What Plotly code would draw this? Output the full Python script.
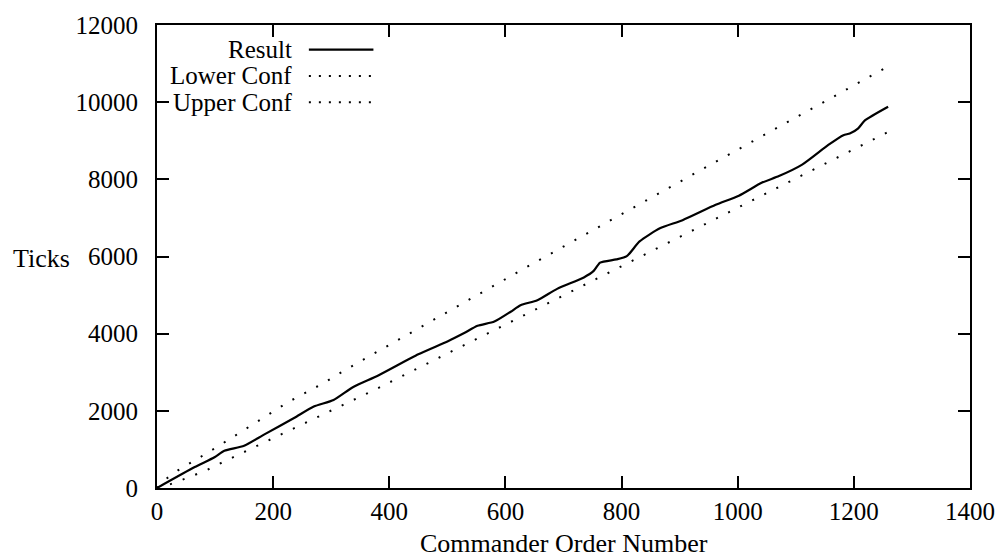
import plotly.graph_objects as go

# ---- data ----
result_x = [0, 65, 99, 116, 150, 185, 236, 270, 304, 338, 381, 450, 501, 529, 552, 581,
            609, 626, 655, 689, 735, 752, 763, 791, 809, 831, 866, 905, 962, 1002, 1042,
            1071, 1111, 1156, 1182, 1193, 1207, 1219, 1259]
result_y = [0, 542, 797, 966, 1093, 1390, 1813, 2110, 2280, 2619, 2916, 3466, 3806, 4017,
            4203, 4314, 4568, 4737, 4865, 5161, 5458, 5627, 5840, 5924, 6009, 6390, 6730,
            6941, 7340, 7577, 7916, 8085, 8382, 8891, 9145, 9187, 9314, 9526, 9882]

lower_x = [0, 19, 42, 65, 85, 105, 330, 370, 652, 948, 1262]
lower_y = [0, 76, 203, 331, 458, 610, 2220, 2509, 4627, 6860, 9250]

upper_x = [0, 16, 36, 54, 74, 113, 168, 227, 287, 325, 630, 947, 1262]
upper_y = [0, 240, 457, 627, 797, 1153, 1687, 2237, 2721, 3068, 5670, 8330, 10950]

x_ticks = [0, 200, 400, 600, 800, 1000, 1200, 1400]
y_ticks = [0, 2000, 4000, 6000, 8000, 10000, 12000]
x_tick_labels = ["0", "200", "400", "600", "800", "1000", "1200", "1400"]
y_tick_labels = ["0", "2000", "4000", "6000", "8000", "10000", "12000"]

series_names = ["Result", "Lower Conf", "Upper Conf"]

FONT = "Liberation Serif"
DOT = "2px,11.5px"

fig = go.Figure()
fig.add_trace(go.Scatter(x=result_x, y=result_y, mode="lines", name=series_names[0],
                         line=dict(color="black", width=2.2, shape="spline", smoothing=0.6)))
fig.add_trace(go.Scatter(x=lower_x, y=lower_y, mode="lines", name=series_names[1],
                         line=dict(color="black", width=2, dash=DOT)))
fig.add_trace(go.Scatter(x=upper_x, y=upper_y, mode="lines", name=series_names[2],
                         line=dict(color="black", width=2, dash=DOT)))

axis_common = dict(showgrid=False, zeroline=False, showline=True, linecolor="black",
                   linewidth=2, mirror="ticks", ticks="inside", ticklen=12, tickwidth=2,
                   tickcolor="black", tickfont=dict(family=FONT, size=25, color="black"))

fig.update_layout(
    width=1007, height=559,
    margin=dict(l=157, r=31, t=16, b=71),
    paper_bgcolor="white", plot_bgcolor="white",
    showlegend=False,
    font=dict(family=FONT, size=25, color="black"),
    xaxis=dict(range=[0, 1400], tickvals=x_ticks, ticktext=x_tick_labels,
               ticklabelstandoff=0, **axis_common),
    yaxis=dict(range=[0, 12000], tickvals=y_ticks, ticktext=y_tick_labels,
               ticklabelstandoff=12, **axis_common),
)

# axis titles
fig.add_annotation(text="Commander Order Number", xref="paper", yref="paper", x=0.5, y=-0.12,
                   xanchor="center", yanchor="middle", showarrow=False,
                   font=dict(family=FONT, size=26, color="black"))
fig.add_annotation(text="Ticks", xref="paper", yref="paper", x=-0.1795, y=0.496,
                   xanchor="left", yanchor="middle", showarrow=False,
                   font=dict(family=FONT, size=26, color="black"))

# gnuplot-style key: text right-aligned, sample to the right
key_rows = [0.947, 0.890, 0.833]
key_dash = ["solid", DOT, DOT]
for name, yy, dsh in zip(series_names, key_rows, key_dash):
    fig.add_annotation(text=name, xref="paper", yref="paper", x=0.1685, y=yy,
                       xanchor="right", yanchor="middle", showarrow=False,
                       font=dict(family=FONT, size=25, color="black"))
    fig.add_shape(type="line", xref="paper", yref="paper", x0=0.1868, x1=0.2662, y0=yy, y1=yy,
                  line=dict(color="black", width=2.2 if dsh == "solid" else 2,
                            dash=dsh if dsh == "solid" else "2px,8px"))

fig.write_html("out.html", config={"displayModeBar": False},
               post_script="document.body.style.margin='0';")
